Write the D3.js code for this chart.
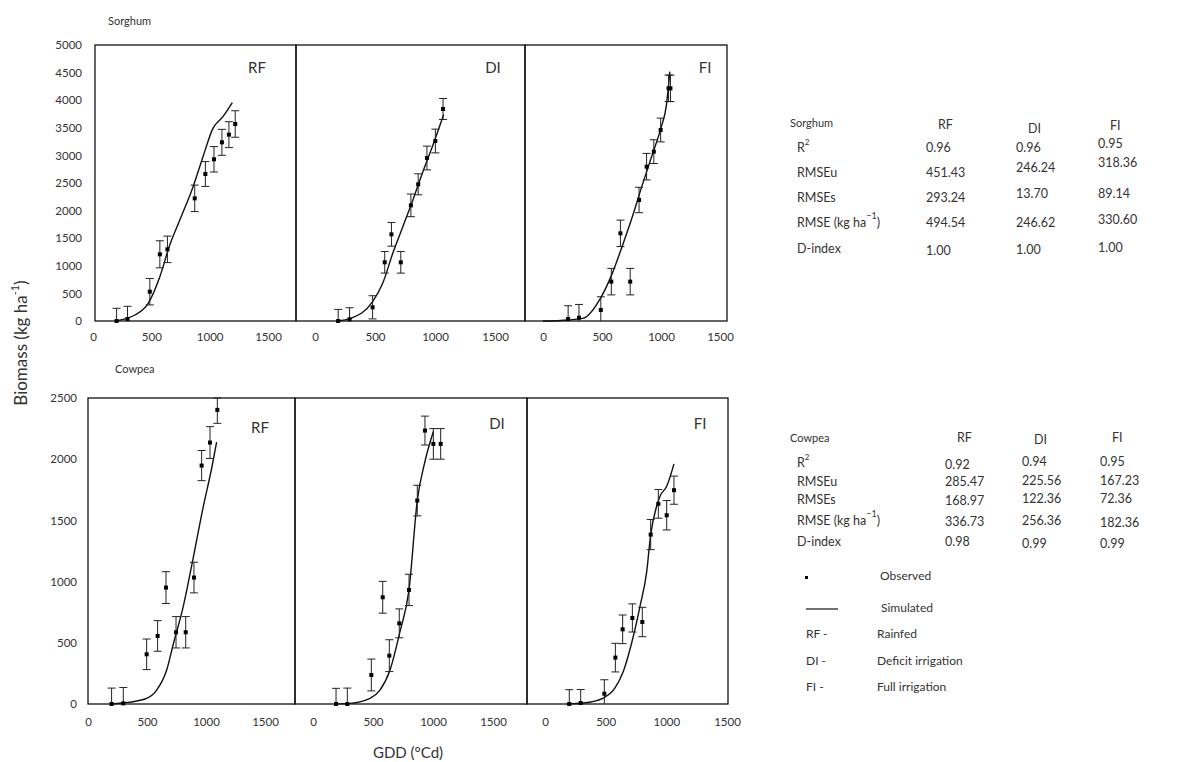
<!DOCTYPE html>
<html><head><meta charset="utf-8">
<script src="https://cdn.jsdelivr.net/npm/d3@7"></script>
<style>
body{margin:0;background:#fff}
svg{display:block}
text{font-family:Lato,"Open Sans",sans-serif;fill:#333}
</style>
</head><body>
<svg id="c" width="1180" height="762"></svg>
<script>
// ---------------- DATA ----------------
const gddTicks = [0, 500, 1000, 1500];
const sorghumYTicks = [0,500,1000,1500,2000,2500,3000,3500,4000,4500,5000];
const cowpeaYTicks = [0,500,1000,1500,2000,2500];
const treatments = ["RF", "DI", "FI"];

// Sorghum – observed (GDD, biomass, error) and simulated
const sRF_obsGDD = [202,296,487,573,638,872,963,1037,1105,1165,1219];
const sRF_obs    = [0,36,531,1208,1298,2222,2663,2929,3237,3376,3569];
const sRF_err    = [230,230,240,245,240,240,225,230,235,235,240];
const sRF_simGDD = [190,288,359,473,573,658,744,858,943,1028,1114,1194];
const sRF_sim    = [0,48,109,320,803,1377,1830,2434,2977,3490,3702,3955];

const sDI_obsGDD = [193,288,480,581,637,715,799,860,933,1003,1067];
const sDI_obs    = [0,30,248,1063,1570,1063,2095,2476,2953,3261,3841];
const sDI_err    = [210,210,210,195,215,195,205,190,215,215,190];
const sDI_simGDD = [187,299,480,564,648,732,816,899,983,1061,1072];
const sDI_sim    = [0,48,350,682,1226,1709,2192,2705,3188,3671,3740];

const sFI_obsGDD = [213,305,490,579,656,739,814,878,939,997,1064,1080];
const sFI_obs    = [36,60,199,713,1588,713,2192,2796,3068,3460,4215,4215];
const sFI_err    = [240,240,240,240,240,240,230,240,215,215,240,240];
const sFI_simGDD = [0,150,338,490,587,670,753,837,920,1003,1044,1075];
const sFI_sim    = [0,10,48,423,863,1347,1860,2434,2977,3520,3883,4517];

// Cowpea
const cRF_obsGDD = [200,299,497,590,661,746,828,898,963,1034,1096];
const cRF_obs    = [0,5,406,556,951,586,586,1033,1948,2136,2403];
const cRF_err    = [130,130,125,125,130,128,128,125,123,130,110];
const cRF_simGDD = [186,290,483,582,667,723,808,893,977,1048,1090];
const cRF_sim    = [0,8,41,114,278,490,800,1200,1613,1926,2139];

const cDI_obsGDD = [192,286,486,581,636,719,800,869,933,1003,1064];
const cDI_obs    = [0,0,237,872,395,659,932,1662,2234,2125,2125];
const cDI_err    = [128,130,130,130,130,118,128,125,118,125,125];
const cDI_simGDD = [183,308,475,558,642,725,800,869,933,1003];
const cDI_sim    = [0,5,46,114,278,591,932,1662,1981,2226];

const cFI_obsGDD = [200,294,489,580,640,720,802,871,934,1003,1063];
const cFI_obs    = [0,8,84,379,610,703,670,1384,1635,1542,1747];
const cFI_err    = [117,110,114,117,117,115,120,123,117,120,115];
const cFI_simGDD = [179,316,481,577,646,714,783,838,871,920,948,1003,1063];
const cFI_sim    = [0,8,49,131,267,498,798,1080,1384,1616,1698,1779,1962];

// Statistics tables
const statNames = ["R2", "RMSEu", "RMSEs", "RMSE", "D-index"];
const sorghumStats_RF = ["0.96","451.43","293.24","494.54","1.00"];
const sorghumStats_DI = ["0.96","246.24","13.70","246.62","1.00"];
const sorghumStats_FI = ["0.95","318.36","89.14","330.60","1.00"];
const cowpeaStats_RF  = ["0.92","285.47","168.97","336.73","0.98"];
const cowpeaStats_DI  = ["0.94","225.56","122.36","256.36","0.99"];
const cowpeaStats_FI  = ["0.95","167.23","72.36","182.36","0.99"];

const legendAbbr = ["RF -", "DI -", "FI -"];
const legendFull = ["Rainfed", "Deficit irrigation", "Full irrigation"];

// ---------------- LAYOUT ----------------
const svg = d3.select("#c");
const TOP = {yt:45, yb:321, ymax:5000, yticks:sorghumYTicks, tickPad:12, ylabRight:82};
const BOT = {yt:398, yb:704, ymax:2500, yticks:cowpeaYTicks, tickPad:14, ylabRight:77};

const panels = [
  {row:TOP, fl:95,  fr:296, x0:93,  x1500:268, lab:"RF", lx:257, ly:67, yaxis:true,
   ox:sRF_obsGDD, oy:sRF_obs, oe:sRF_err, sx:sRF_simGDD, sy:sRF_sim},
  {row:TOP, fl:296, fr:525, x0:315, x1500:495, lab:"DI", lx:493, ly:67,
   ox:sDI_obsGDD, oy:sDI_obs, oe:sDI_err, sx:sDI_simGDD, sy:sDI_sim},
  {row:TOP, fl:525, fr:727, x0:543, x1500:720, lab:"FI", lx:705, ly:67,
   ox:sFI_obsGDD, oy:sFI_obs, oe:sFI_err, sx:sFI_simGDD, sy:sFI_sim},
  {row:BOT, fl:88,  fr:295, x0:88,  x1500:265, lab:"RF", lx:260, ly:427, yaxis:true,
   ox:cRF_obsGDD, oy:cRF_obs, oe:cRF_err, sx:cRF_simGDD, sy:cRF_sim},
  {row:BOT, fl:295, fr:527, x0:313, x1500:493, lab:"DI", lx:497, ly:423,
   ox:cDI_obsGDD, oy:cDI_obs, oe:cDI_err, sx:cDI_simGDD, sy:cDI_sim},
  {row:BOT, fl:527, fr:728, x0:545, x1500:727, lab:"FI", lx:700, ly:423,
   ox:cFI_obsGDD, oy:cFI_obs, oe:cFI_err, sx:cFI_simGDD, sy:cFI_sim}
];

const fmt = d3.format("d");

panels.forEach(p => {
  const r = p.row;
  const x = d3.scaleLinear().domain([0, 1500]).range([p.x0, p.x1500]);
  const y = d3.scaleLinear().domain([0, r.ymax]).range([r.yb, r.yt]);
  const g = svg.append("g");

  g.append("rect").attr("x", p.fl).attr("y", r.yt)
    .attr("width", p.fr - p.fl).attr("height", r.yb - r.yt)
    .attr("fill", "none").attr("stroke", "#111").attr("stroke-width", 1.3);

  const xa = g.append("g").attr("transform", `translate(0,${r.yb})`)
    .call(d3.axisBottom(x).tickValues(gddTicks).tickFormat(fmt).tickSize(0).tickPadding(r.tickPad));
  xa.select(".domain").remove();
  xa.selectAll("text").attr("font-size", 11.5).attr("font-family", "Lato, sans-serif").attr("fill", "#3a3a3a");

  if (p.yaxis) {
    const ya = g.append("g").attr("transform", `translate(${r.ylabRight},0)`)
      .call(d3.axisLeft(y).tickValues(r.yticks).tickFormat(fmt).tickSize(0).tickPadding(0));
    ya.select(".domain").remove();
    ya.selectAll("text").attr("font-size", 11.5).attr("font-family", "Lato, sans-serif").attr("fill", "#3a3a3a");
  }

  // simulated line
  const simData = p.sx.map((v, i) => [v, p.sy[i]]);
  g.append("path").datum(simData)
    .attr("d", d3.line().x(d => x(d[0])).y(d => y(d[1])).curve(d3.curveMonotoneX))
    .attr("fill", "none").attr("stroke", "#111").attr("stroke-width", 1.4);

  // observed with error bars
  const obs = p.ox.map((v, i) => ({g: v, b: p.oy[i], e: p.oe[i]}));
  const eb = g.selectAll(".eb").data(obs).enter().append("g");
  eb.append("line")
    .attr("x1", d => x(d.g)).attr("x2", d => x(d.g))
    .attr("y1", d => y(Math.max(0, d.b - d.e))).attr("y2", d => y(Math.min(r.ymax, d.b + d.e)))
    .attr("stroke", "#222").attr("stroke-width", 1);
  eb.append("line")
    .attr("x1", d => x(d.g) - 4).attr("x2", d => x(d.g) + 4)
    .attr("y1", d => y(Math.min(r.ymax, d.b + d.e))).attr("y2", d => y(Math.min(r.ymax, d.b + d.e)))
    .attr("stroke", "#222").attr("stroke-width", 1);
  eb.filter(d => d.b - d.e > 0).append("line")
    .attr("x1", d => x(d.g) - 4).attr("x2", d => x(d.g) + 4)
    .attr("y1", d => y(d.b - d.e)).attr("y2", d => y(d.b - d.e))
    .attr("stroke", "#222").attr("stroke-width", 1);
  eb.append("rect")
    .attr("x", d => x(d.g) - 2).attr("y", d => y(d.b) - 2)
    .attr("width", 4).attr("height", 4).attr("fill", "#000");

  g.append("text").attr("x", p.lx).attr("y", p.ly).attr("text-anchor", "middle")
    .attr("dominant-baseline", "central").attr("font-size", 15).attr("fill", "#222").text(p.lab);
});

// crop titles
svg.append("text").attr("x", 108).attr("y", 20).attr("dominant-baseline", "central")
  .attr("font-size", 11).text("Sorghum");
svg.append("text").attr("x", 115).attr("y", 368).attr("dominant-baseline", "central")
  .attr("font-size", 11).text("Cowpea");

// axis titles
const yt = svg.append("text").attr("transform", "translate(20,343) rotate(-90)")
  .attr("text-anchor", "middle").attr("dominant-baseline", "central").attr("font-size", 17);
yt.append("tspan").text("Biomass (kg ha");
yt.append("tspan").attr("font-size", 11).attr("dy", -6).text("-1");
yt.append("tspan").attr("dy", 6).text(")");

svg.append("text").attr("x", 408).attr("y", 752).attr("text-anchor", "middle")
  .attr("dominant-baseline", "central").attr("font-size", 15).text("GDD (°Cd)");

// ---------------- TABLES ----------------
function drawTable(title, hdrY, rowY, colX, cols, cellDy, hdrDy) {
  const t = svg.append("g").attr("font-size", 12.5);
  t.append("text").attr("x", 790).attr("y", hdrY).attr("dominant-baseline", "central")
    .attr("font-size", 11).text(title);
  treatments.forEach((tr, j) => {
    t.append("text").attr("x", colX[j] + 12).attr("y", hdrY + hdrDy[j])
      .attr("dominant-baseline", "central").text(tr);
  });
  statNames.forEach((s, i) => {
    const tx = t.append("text").attr("x", 797).attr("y", rowY[i]).attr("dominant-baseline", "central");
    if (s === "R2") {
      tx.append("tspan").text("R");
      tx.append("tspan").attr("font-size", 8).attr("dy", -5).text("2");
    } else if (s === "RMSE") {
      tx.append("tspan").text("RMSE  (kg ha");
      tx.append("tspan").attr("font-size", 9).attr("dy", -7).text("\u22121");
      tx.append("tspan").attr("dy", 7).text(")");
    } else tx.text(s);
  });
  cols.forEach((col, j) => {
    col.forEach((v, i) => {
      t.append("text").attr("x", colX[j]).attr("y", rowY[i] + cellDy[j][i])
        .attr("dominant-baseline", "central").text(v);
    });
  });
}

drawTable("Sorghum", 122, [147, 172, 197, 222, 248], [926, 1016, 1098],
  [sorghumStats_RF, sorghumStats_DI, sorghumStats_FI],
  [[0,0,0,0,2],[0,-5,-4,0,1],[-4,-10,-4,-3,-1]], [2,6,3]);
drawTable("Cowpea", 437, [462, 481, 499, 520, 541], [945, 1022, 1100],
  [cowpeaStats_RF, cowpeaStats_DI, cowpeaStats_FI],
  [[2,0,1,1,0],[-1,-1,-1,0,2],[-1,-1,-1,2,2]], [0,2,0]);

// ---------------- LEGEND ----------------
const lg = svg.append("g").attr("font-size", 12);
lg.append("rect").attr("x", 805).attr("y", 576).attr("width", 3).attr("height", 3).attr("fill", "#000");
lg.append("text").attr("x", 880).attr("y", 575).attr("dominant-baseline", "central").text("Observed");
lg.append("line").attr("x1", 806).attr("x2", 838).attr("y1", 609).attr("y2", 609)
  .attr("stroke", "#111").attr("stroke-width", 1.2);
lg.append("text").attr("x", 881).attr("y", 607).attr("dominant-baseline", "central").text("Simulated");
legendAbbr.forEach((a, i) => {
  const yy = [633, 660, 686][i];
  lg.append("text").attr("x", 806).attr("y", yy).attr("dominant-baseline", "central").text(a);
  lg.append("text").attr("x", 877).attr("y", yy).attr("dominant-baseline", "central").text(legendFull[i]);
});
</script>
</body></html>
